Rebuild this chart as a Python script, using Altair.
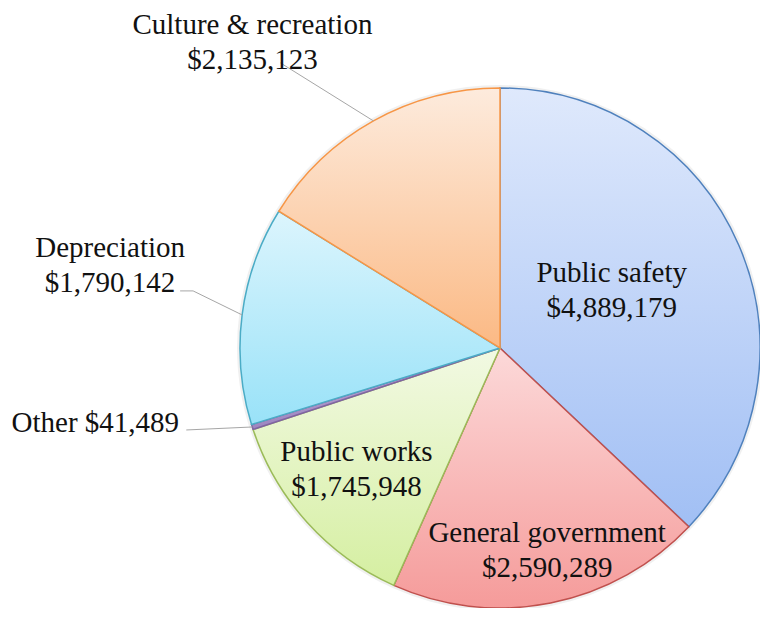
import altair as alt
import pandas as pd
import math

# ---- data ----
categories = ["Public safety", "General government", "Public works", "Other",
              "Depreciation", "Culture & recreation"]
values = [4889179, 2590289, 1745948, 41489, 1790142, 2135123]

TOTAL = sum(values)
df = pd.DataFrame({"category": categories, "value": values, "order": list(range(len(values)))})
df["label"] = [f"{c}\n${v:,}" if c != "Other" else f"{c} ${v:,}" for c, v in zip(categories, values)]

# ---- style ----
R = 260
W = H = 2 * R
CX, CY = W / 2, H / 2
FONT = "Liberation Serif, Times New Roman, serif"
FS = 29
LH = 35
HALF = LH / 2  # shift so a two-line block is centred on its anchor

styles = {
    "Public safety": ("#dfe9fc", "#a1bff4", "#4f81bd"),
    "General government": ("#fcd9d9", "#f59b9a", "#c0504d"),
    "Public works": ("#f2f9e3", "#d5efa1", "#9bbb59"),
    "Other": ("#c2b2d8", "#9d86c0", "#8064a2"),
    "Depreciation": ("#dcf5fd", "#99e2f8", "#4bacc6"),
    "Culture & recreation": ("#fdebdd", "#fbb984", "#f79646"),
}

theta_scale = alt.Scale(domain=[0, TOTAL], range=[0, 2 * math.pi])

base = alt.Chart(df)

def grad(c1, c2):
    return alt.LinearGradient(
        gradient="linear", x1=0, y1=0, x2=0, y2=1,
        stops=[alt.GradientStop(color=c1, offset=0), alt.GradientStop(color=c2, offset=1)],
    )

# faint shadow behind the pie
shadow = base.mark_arc(radius=R + 3, fill="#000000", opacity=0.06).encode(
    theta=alt.Theta("start:Q", scale=theta_scale), theta2="end:Q"
)

arcs = []
for c in categories:
    top, bot, stroke = styles[c]
    arcs.append(
        base.transform_filter(alt.datum.category == c)
        .mark_arc(radius=R, fill=grad(top, bot), stroke=stroke, strokeWidth=1.5)
        .encode(theta=alt.Theta("start:Q", scale=theta_scale), theta2="end:Q")
    )

text_style = dict(font=FONT, fontSize=FS, lineHeight=LH, lineBreak="\n",
                  align="center", baseline="middle", color="#111111")

# inside labels: placed on the slice's mid angle (radius, dx, dy of the block centre)
inside = {
    "Public safety": (126, -4, -8),
    "General government": (206, 7, 0),
    "Public works": (188, -4, -4),
}
texts = []
for c, (r, dx, dy) in inside.items():
    texts.append(
        base.transform_filter(alt.datum.category == c)
        .mark_text(radius=r, dx=dx, dy=dy - HALF, **text_style)
        .encode(theta=alt.Theta("mid:Q", scale=theta_scale), text="label:N")
    )

# outside labels: leader from slice edge -> (knee) -> end; text offset from leader end
outside = {
    "Culture & recreation": ((-93, -58), 0, (-28, -38)),
    "Depreciation": ((-62, -24), 13, (-70, -43)),
    "Other": ((-66, 3), 0, (-91, -7)),
}
leaders = []
for c, ((lx, ly), knee, (tx, ty)) in outside.items():
    b = (base.transform_filter(alt.datum.category == c)
         .transform_calculate(ang=alt.datum.mid / TOTAL * 2 * math.pi)
         .transform_calculate(
             ex=CX + R * alt.expr.sin(alt.datum.ang),
             ey=CY - R * alt.expr.cos(alt.datum.ang))
         .transform_calculate(lxe=alt.datum.ex + lx, lye=alt.datum.ey + ly)
         .transform_calculate(kxe=alt.datum.lxe + knee,
                              txp=alt.datum.lxe + tx, typ=alt.datum.lye + ty))
    leaders.append(
        b.mark_rule(color="#a6a6a6", strokeWidth=1).encode(
            x=alt.X("ex:Q", scale=None), y=alt.Y("ey:Q", scale=None),
            x2="kxe:Q", y2="lye:Q")
    )
    if knee:
        leaders.append(
            b.mark_rule(color="#a6a6a6", strokeWidth=1).encode(
                x=alt.X("kxe:Q", scale=None), y=alt.Y("lye:Q", scale=None),
                x2="lxe:Q", y2="lye:Q")
        )
    texts.append(
        b.mark_text(**text_style)
        .encode(x=alt.X("txp:Q", scale=None), y=alt.Y("typ:Q", scale=None), text="label:N")
    )

chart = (
    alt.layer(shadow, *arcs, *leaders, *texts)
    .transform_window(cum="sum(value)", sort=[alt.SortField("order")], frame=[None, 0])
    .transform_calculate(start=alt.datum.cum - alt.datum.value, end=alt.datum.cum)
    .transform_calculate(mid=(alt.datum.start + alt.datum.end) / 2)
    .properties(width=W, height=H, padding={"left": 232, "top": 80, "right": 0, "bottom": 0},
                autosize=alt.AutoSizeParams(type="none"), background="white")
    .configure_view(stroke="transparent", strokeWidth=0)
)

chart.save("out.html", embed_options={"renderer": "svg", "actions": False})
